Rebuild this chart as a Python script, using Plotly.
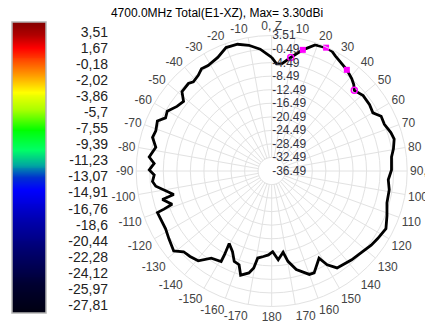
import numpy as np
import plotly.graph_objects as go

# ---------------- data ----------------
theta_deg = [0, 2.6, 5.3, 9.5, 14.4, 19.0, 23.8, 26.7, 28.9, 32, 36.6, 40.9, 43.5, 45.7,
             50.5, 55.9, 60.1, 63.4, 67.5, 72.1, 75.4, 79.7, 83.3, 89.5, 94.3, 99, 105.4,
             111.2, 116.8, 122.5, 126.7, 134.1, 138, 146, 149.4, 151.5, 157.4, 160, 166,
             169.8, 172, 175.8, 179.3, -177.8, -174.5, -170.9, -169.5, -167.4, -163.4,
             -160.8, -157.5, -154.1, -149.6, -150.6, -150.8, -145.3, -140.7, -136.3,
             -132.5, -129.2, -123.3, -118.6, -110, -109.5, -108.5, -104.6, -103.5, -97.5,
             -95, -91.9, -89.5, -86.3, -83.5, -78.4, -74.2, -70.9, -66.4, -63.4, -60.2,
             -55.7, -51.7, -48.5, -43.6, -41.3, -37.5, -34.5, -31.1, -25.4, -20.3, -15.1,
             -10.3, -5.4, 0]
gain_dbi = [-2.95, -4.85, -4.73, -2.53, 0.43, 2.89, 3.30, 3.1, 2.35, 1.6, 0.71, -0.41, -1.3,
            -2.41, -1.50, -1.6, -2.03, -0.36, -0.49, 0.48, 0.87, 0.04, -0.87, -1.12, -1.98,
            -1.36, -1.2, 0.01, 1.29, 0.62, 0.14, -0.92, -1.2, -1.98, -4.34, -7.2, -3.9,
            -4.0, -6.5, -9.4, -12.26, -10.2, -12.68, -11.7, -11.14, -10.47, -7.38, -5.67,
            -4.41, -7.2, -7.6, -10.0, -11.69, -8.05, -5.9, -5.18, -2.24, -1.6, -1.21, 0.84,
            -0.16, -0.82, -0.6, -2.75, -5.49, -3.14, -6.75, -1.98, -1.17, -1.79, -0.35,
            -1.72, -0.1, -1.56, 0.07, -0.28, 0.33, -1.44, -0.96, -2.65, -3.33, -1.12, -0.83,
            -1.45, -0.89, 0.11, -0.12, 0.62, 2.35, 2.26, 1.23, -0.38, -2.95]

marker_sq_theta = [14.4, 23.8, 36.6]
marker_sq_r = [0.43, 3.30, 0.71]
marker_ci_theta = [9.5, 45.7]
marker_ci_r = [-2.53, -2.41]

radial_ticks = [3.51, -0.49, -4.49, -8.49, -12.49, -16.49, -20.49, -24.49, -28.49,
                -32.49, -36.49]
angle_ticks = list(range(0, 360, 10))
angle_labels = ["0, Z" if a == 0 else ("90, X" if a == 90 else
                (str(a) if a <= 180 else str(a - 360))) for a in angle_ticks]

cbar_values = [3.51, 1.67, -0.18, -2.02, -3.86, -5.7, -7.55, -9.39, -11.23, -13.07,
               -14.91, -16.76, -18.6, -20.44, -22.28, -24.12, -25.97, -27.81]
cbar_labels = [("%g" % v).replace(".", ",") for v in cbar_values]
cbar_range = [-28.73, 4.66]

title = "4700.0MHz Total(E1-XZ), Max= 3.30dBi"

FONT = "Liberation Sans, Arial, sans-serif"
GRID = "#e2e2e2"

fig = go.Figure()

# inner blank disc (grid spokes stop at the first ring)
disc_t = list(np.arange(0, 361, 5))
fig.add_trace(go.Scatterpolar(r=[radial_ticks[-2]] * len(disc_t), theta=disc_t,
                              mode="lines", fill="toself", fillcolor="white",
                              line=dict(color=GRID, width=1), hoverinfo="skip"))

fig.add_trace(go.Scatterpolar(r=gain_dbi, theta=theta_deg, mode="lines",
                              line=dict(color="black", width=2.8)))
fig.add_trace(go.Scatterpolar(r=marker_sq_r, theta=marker_sq_theta, mode="markers",
                              marker=dict(symbol="square", size=6, color="#ff00ff")))
fig.add_trace(go.Scatterpolar(r=marker_ci_r, theta=marker_ci_theta, mode="markers",
                              marker=dict(symbol="circle-open", size=6, color="#ff00ff",
                                          line=dict(width=1.5))))

# colour bar drawn as a heatmap
grid_vals = list(np.linspace(cbar_range[0], cbar_range[1], 300))
cscale = [[0.0, "#000010"], [0.096, "#000030"], [0.216, "#000070"], [0.32, "#0000b0"],
          [0.423, "#0000ff"], [0.464, "#0030d0"], [0.509, "#00a8a0"], [0.56, "#00ff66"],
          [0.629, "#00ff00"], [0.698, "#aaff00"], [0.759, "#ffff00"], [0.818, "#ff9900"],
          [0.863, "#ff5000"], [0.911, "#ff0000"], [0.955, "#b00000"], [1.0, "#800000"]]
fig.add_trace(go.Heatmap(x=[0], y=grid_vals, z=[[v] for v in grid_vals],
                         colorscale=cscale, zmin=cbar_range[0], zmax=cbar_range[1],
                         showscale=False, xaxis="x2", yaxis="y2", hoverinfo="skip"))

W, H = 433, 324
OFF = 8  # page offset of the figure inside the browser window
cx, cy, R = 271.7 - OFF, 171.0 - OFF, 135.5
fig.update_layout(
    width=W, height=H, margin=dict(l=0, r=0, t=0, b=0),
    paper_bgcolor="white", plot_bgcolor="white", showlegend=False,
    font=dict(family=FONT, size=12, color="#333"),
    title=dict(text=title, x=(217 - OFF) / W, xanchor="center", y=1 - (13 - OFF) / H,
               yanchor="middle", font=dict(family=FONT, size=12, color="black")),
    polar=dict(
        domain=dict(x=[(cx - R) / W, (cx + R) / W], y=[(H - cy - R) / H, (H - cy + R) / H]),
        bgcolor="white",
        angularaxis=dict(rotation=90, direction="clockwise", tickmode="array",
                         tickvals=angle_ticks, ticktext=angle_labels, showgrid=True,
                         gridcolor=GRID, gridwidth=1, showline=True, linecolor=GRID,
                         ticks="", ticklen=1, tickfont=dict(size=12, color="#444")),
        radialaxis=dict(range=[radial_ticks[-1], radial_ticks[0]], angle=90, tickangle=90,
                        tickmode="array", tickvals=radial_ticks,
                        ticktext=["%.2f" % v for v in radial_ticks],
                        showgrid=True, gridcolor=GRID, gridwidth=1, showline=False,
                        ticks="", side="clockwise", layer="above traces",
                        tickfont=dict(size=12, color="#333340")),
    ),
    xaxis2=dict(domain=[(12 - OFF) / W, (46 - OFF) / W], visible=False, fixedrange=True),
    yaxis2=dict(domain=[1 - (313 - OFF) / H, 1 - (22 - OFF) / H], anchor="free",
                position=(108 - OFF) / W, side="left", range=cbar_range, tickmode="array",
                tickvals=cbar_values, ticktext=cbar_labels, showgrid=False, zeroline=False,
                showline=False, ticks="", tickfont=dict(size=14, color="#222")),
    shapes=[dict(type="rect", xref="x2 domain", yref="y2 domain", x0=0, x1=1, y0=0, y1=1,
                 line=dict(color="#b4b4b4", width=1.5))],
)

fig.write_html("out.html")
